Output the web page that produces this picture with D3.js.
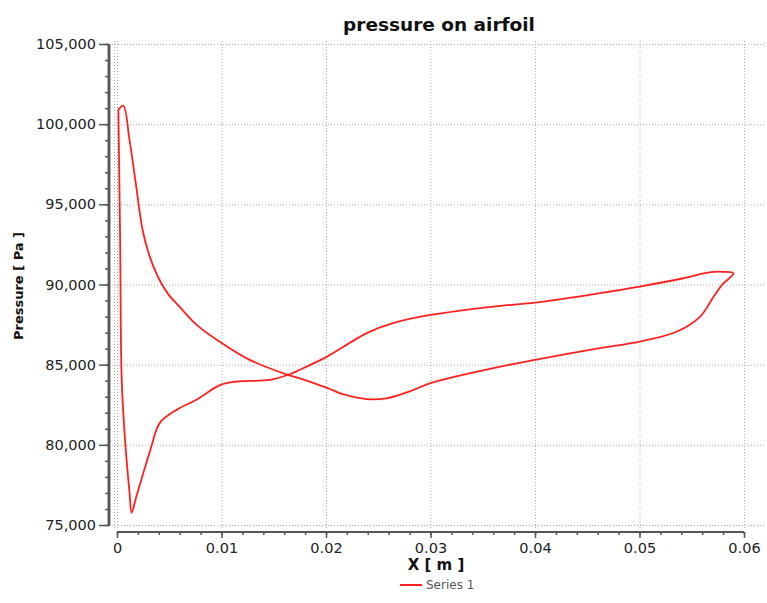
<!DOCTYPE html>
<html>
<head>
<meta charset="utf-8">
<script src="https://cdn.jsdelivr.net/npm/d3@7"></script>
<style>
  body { margin: 0; background: #fff; }
  text { font-family: "DejaVu Sans", Verdana, sans-serif; }
</style>
</head>
<body>
<div class="chart"></div>
<script>
// x [m], pressure [Pa] -- one closed loop round the airfoil
const xValues = [
  0.00013, 0.0006, 0.0012, 0.0018, 0.00245, 0.0031, 0.0039, 0.0049, 0.006, 0.0076,
  0.0099, 0.0127, 0.0162, 0.0175, 0.0201, 0.0216, 0.0239, 0.0258, 0.028, 0.03,
  0.0367, 0.04, 0.0462, 0.05, 0.0536, 0.0558, 0.0571, 0.0579, 0.059,
  0.058, 0.0568, 0.0542, 0.05, 0.0462, 0.04, 0.0367, 0.03, 0.0264, 0.0239,
  0.0201, 0.0175, 0.0164, 0.0146, 0.0115, 0.0099, 0.0076, 0.0057, 0.0041, 0.0032,
  0.0018, 0.0014, 0.0012, 0.00077, 0.00045, 0.0003, 0.00013
];
const pressureValues = [
  100890, 101150, 99000, 96300, 93400, 91800, 90500, 89400, 88600, 87500,
  86400, 85300, 84400, 84150, 83550, 83160, 82850, 82900, 83330, 83850,
  84880, 85300, 86030, 86440, 87070, 88000, 89250, 89980, 90700,
  90790, 90770, 90390, 89870, 89460, 88870, 88670, 88100, 87590, 86970,
  85500, 84680, 84370, 84050, 83950, 83740, 82810, 82180, 81370, 79690,
  76650, 75760, 77000, 80310, 84050, 92780, 100890
];
const xTicks = [0, 0.01, 0.02, 0.03, 0.04, 0.05, 0.06];
const yTicks = [75000, 80000, 85000, 90000, 95000, 100000, 105000];
const seriesName = "Series 1";

const data = xValues.map((x, i) => ({ x: x, p: pressureValues[i] }));

const totalWidth = 767, totalHeight = 603;

const svg = d3
  .select(".chart")
  .append("svg")
  .attr("width", totalWidth)
  .attr("height", totalHeight);

const xScale = d3.scaleLinear().domain([0, 0.06]).range([117, 744]);
const yScale = d3.scaleLinear().domain([75000, 105000]).range([525, 44]);

// dotted grid
const grid = svg.append("g").attr("stroke", "#b0b0b0").attr("stroke-dasharray", "1,2");
grid
  .selectAll("line.h")
  .data(yTicks)
  .enter()
  .append("line")
  .attr("x1", 112)
  .attr("x2", 766)
  .attr("y1", (d) => yScale(d) + 0.5)
  .attr("y2", (d) => yScale(d) + 0.5);
grid
  .selectAll("line.v")
  .data(xTicks)
  .enter()
  .append("line")
  .attr("x1", (d) => xScale(d) + 0.5)
  .attr("x2", (d) => xScale(d) + 0.5)
  .attr("y1", 41)
  .attr("y2", 529);
grid
  .append("line")
  .attr("x1", 114.5)
  .attr("x2", 114.5)
  .attr("y1", 41)
  .attr("y2", 529);

// y axis
const yMinor = d3.range(75000, 105001, 1000);
const yAxisG = svg.append("g").attr("transform", "translate(109,0)");
yAxisG
  .append("g")
  .call(d3.axisLeft(yScale).tickValues(yMinor).tickSize(4).tickFormat(""));
yAxisG
  .append("g")
  .attr("class", "y-axis")
  .call(d3.axisLeft(yScale).tickValues(yTicks).tickSize(10).tickPadding(3).tickFormat(d3.format(",")));
yAxisG.selectAll(".domain").attr("d", `M0,${yScale(105000)}V${yScale(75000) + 1}`).attr("stroke", "#555").attr("stroke-width", 2.5);
yAxisG.selectAll(".tick line").attr("stroke", "#555").attr("stroke-width", 1.5);
yAxisG
  .selectAll(".y-axis text")
  .attr("font-size", 14.5)
  .attr("fill", "#222")
  .attr("font-family", "DejaVu Sans");

// x axis
const xMinor = d3.range(0, 0.06001, 0.002);
const xAxisG = svg.append("g").attr("transform", "translate(0,532)");
xAxisG
  .append("g")
  .call(d3.axisBottom(xScale).tickValues(xMinor).tickSize(3).tickFormat(""));
xAxisG
  .append("g")
  .attr("class", "x-axis")
  .call(d3.axisBottom(xScale).tickValues(xTicks).tickSize(6).tickFormat(d3.format("")));
xAxisG.selectAll(".domain").attr("d", `M${xScale(0)},0H${xScale(0.06)}`).attr("stroke", "#555").attr("stroke-width", 2);
xAxisG.selectAll(".tick line").attr("stroke", "#555").attr("stroke-width", 1.5);
xAxisG
  .selectAll(".x-axis text")
  .attr("y", 21)
  .attr("dy", 0)
  .attr("font-size", 14.5)
  .attr("fill", "#222")
  .attr("font-family", "DejaVu Sans");

// titles
svg
  .append("text")
  .attr("x", 439)
  .attr("y", 31)
  .attr("text-anchor", "middle")
  .attr("font-weight", "bold")
  .attr("font-size", 18.5)
  .attr("fill", "#111")
  .text("pressure on airfoil");

svg
  .append("text")
  .attr("transform", "translate(23,286) rotate(-90)")
  .attr("text-anchor", "middle")
  .attr("font-weight", "bold")
  .attr("font-size", 13)
  .attr("fill", "#111")
  .text("Pressure [ Pa ]");

svg
  .append("text")
  .attr("x", 436)
  .attr("y", 570)
  .attr("text-anchor", "middle")
  .attr("font-weight", "bold")
  .attr("font-size", 15)
  .attr("fill", "#111")
  .text("X [ m ]");

// legend
svg
  .append("line")
  .attr("x1", 400)
  .attr("x2", 422)
  .attr("y1", 585)
  .attr("y2", 585)
  .attr("stroke", "#ff2020")
  .attr("stroke-width", 2);
svg
  .append("text")
  .attr("x", 426)
  .attr("y", 589)
  .attr("font-size", 12)
  .attr("fill", "#555")
  .text(seriesName);

// the curve
const line = d3
  .line()
  .curve(d3.curveCatmullRom.alpha(0.5))
  .x((d) => xScale(d.x))
  .y((d) => yScale(d.p));

svg
  .append("path")
  .datum(data)
  .attr("fill", "none")
  .attr("stroke", "#ff2020")
  .attr("stroke-width", 1.8)
  .attr("stroke-linejoin", "round")
  .attr("d", line);
</script>
</body>
</html>
